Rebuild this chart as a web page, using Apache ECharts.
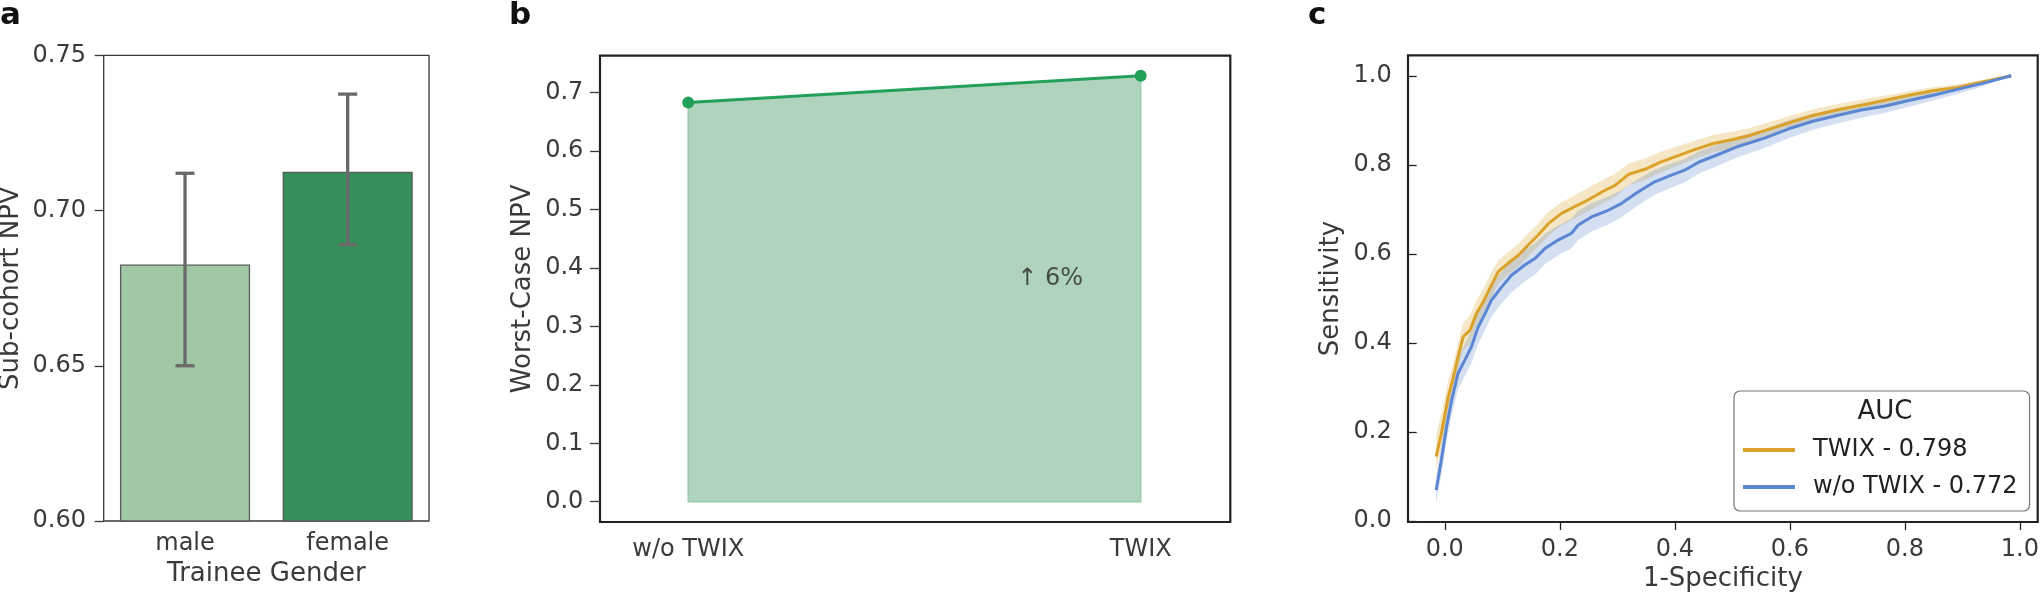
<!DOCTYPE html>
<html>
<head>
<meta charset="utf-8">
<title>TWIX NPV / ROC</title>
<script src="https://cdn.jsdelivr.net/npm/echarts@6/dist/echarts.min.js"></script>
<style>
  html, body { margin: 0; padding: 0; background: #fff; }
  #chart { width: 2040px; height: 595px; }
</style>
</head>
<body>
<div id="chart"></div>
<script>
// panel a: sub-cohort NPV by trainee gender
const genders = ['male', 'female'];
const genderNpv = [0.6826, 0.7125];
const genderErrLow = [0.650, 0.689];
const genderErrHigh = [0.712, 0.7375];
const genderColors = ['#a1c8a5', '#348f5b'];

// panel b: worst-case NPV
const caseLabels = ['w/o TWIX', 'TWIX'];
const casePos = [0, 1];
const worstNpv = [0.683, 0.729];
const worstTicks = [0, 0.1, 0.2, 0.3, 0.4, 0.5, 0.6, 0.7];
const gainText = '↑ 6%';

// panel c: ROC curves with bands
const rocTicks = [0, 0.2, 0.4, 0.6, 0.8, 1.0];
const twixAuc = 0.798;
const woAuc = 0.772;
const twixFpr = [-0.015, -0.006, 0.006, 0.015, 0.023, 0.032, 0.044, 0.055, 0.067, 0.081, 0.093, 0.110, 0.128, 0.145, 0.162, 0.180, 0.203, 0.226, 0.249, 0.273, 0.296, 0.320, 0.348, 0.375, 0.400, 0.432, 0.467, 0.501, 0.530, 0.556, 0.598, 0.640, 0.682, 0.724, 0.766, 0.809, 0.851, 0.893, 0.935, 0.985];
const twixTpr = [0.145, 0.197, 0.279, 0.324, 0.369, 0.414, 0.429, 0.466, 0.493, 0.530, 0.560, 0.579, 0.597, 0.620, 0.642, 0.668, 0.691, 0.706, 0.721, 0.739, 0.754, 0.779, 0.790, 0.806, 0.818, 0.833, 0.848, 0.857, 0.866, 0.877, 0.894, 0.911, 0.923, 0.934, 0.945, 0.957, 0.967, 0.974, 0.986, 1.000];
const twixLow = [0.115, 0.165, 0.245, 0.292, 0.337, 0.383, 0.400, 0.437, 0.465, 0.502, 0.533, 0.553, 0.571, 0.594, 0.616, 0.641, 0.664, 0.680, 0.695, 0.712, 0.728, 0.754, 0.766, 0.783, 0.796, 0.812, 0.828, 0.838, 0.848, 0.860, 0.878, 0.896, 0.910, 0.922, 0.934, 0.947, 0.958, 0.967, 0.981, 1.000];
const twixHigh = [0.195, 0.240, 0.315, 0.356, 0.400, 0.445, 0.462, 0.496, 0.522, 0.558, 0.585, 0.604, 0.623, 0.646, 0.668, 0.694, 0.716, 0.732, 0.748, 0.765, 0.780, 0.803, 0.814, 0.829, 0.840, 0.853, 0.867, 0.875, 0.883, 0.893, 0.909, 0.925, 0.936, 0.946, 0.956, 0.966, 0.975, 0.981, 0.991, 1.000];
const woFpr = [-0.015, -0.006, 0.003, 0.012, 0.023, 0.035, 0.046, 0.058, 0.070, 0.081, 0.099, 0.116, 0.139, 0.157, 0.174, 0.197, 0.220, 0.232, 0.255, 0.284, 0.307, 0.336, 0.365, 0.394, 0.417, 0.443, 0.471, 0.507, 0.556, 0.598, 0.640, 0.682, 0.724, 0.766, 0.809, 0.851, 0.893, 0.935, 0.985];
const woTpr = [0.070, 0.137, 0.212, 0.272, 0.332, 0.362, 0.391, 0.436, 0.466, 0.496, 0.526, 0.552, 0.575, 0.590, 0.612, 0.631, 0.646, 0.665, 0.683, 0.698, 0.713, 0.739, 0.762, 0.777, 0.788, 0.807, 0.821, 0.840, 0.860, 0.881, 0.898, 0.911, 0.923, 0.932, 0.945, 0.957, 0.970, 0.983, 1.000];
const woLow = [0.040, 0.105, 0.178, 0.238, 0.296, 0.326, 0.355, 0.399, 0.429, 0.459, 0.489, 0.514, 0.538, 0.554, 0.577, 0.597, 0.612, 0.631, 0.650, 0.666, 0.682, 0.709, 0.733, 0.749, 0.761, 0.781, 0.796, 0.816, 0.838, 0.860, 0.879, 0.893, 0.906, 0.917, 0.931, 0.945, 0.960, 0.976, 1.000];
const woHigh = [0.098, 0.168, 0.245, 0.305, 0.366, 0.398, 0.427, 0.471, 0.501, 0.531, 0.560, 0.586, 0.609, 0.624, 0.645, 0.664, 0.679, 0.697, 0.714, 0.729, 0.743, 0.768, 0.789, 0.803, 0.813, 0.831, 0.844, 0.862, 0.880, 0.900, 0.915, 0.927, 0.938, 0.946, 0.958, 0.968, 0.979, 0.989, 1.000];

const FONT = 'DejaVu Sans';
const TXT = '#3a3a3a';
const twixName = 'TWIX - ' + twixAuc.toFixed(3);
const woName = 'w/o TWIX - ' + woAuc.toFixed(3);

function band(xs, lo, hi, fill) {
  return function (params, api) {
    const pts = [];
    for (let i = 0; i < xs.length; i++) pts.push(api.coord([xs[i], hi[i]]));
    for (let i = xs.length - 1; i >= 0; i--) pts.push(api.coord([xs[i], lo[i]]));
    return { type: 'polygon', shape: { points: pts }, style: { fill: fill } };
  };
}

function pairs(xs, ys) {
  return xs.map((x, i) => [x, ys[i]]);
}

const chart = echarts.init(document.getElementById('chart'), null, { renderer: 'canvas' });

const axisName = { fontSize: 26, color: TXT, fontFamily: FONT };
const tickLabel = { fontSize: 24, color: TXT, fontFamily: FONT };

const option = {
  animation: false,
  backgroundColor: '#fff',
  textStyle: { fontFamily: FONT },
  grid: [
    { left: 103.7, top: 55.3, width: 325.3, height: 465.7, show: true, borderColor: '#3a3a3a', borderWidth: 1.3, backgroundColor: 'transparent', outerBoundsMode: 'none' },
    { left: 600, top: 55.7, width: 630.3, height: 466.3, show: true, borderColor: '#222', borderWidth: 2.2, backgroundColor: 'transparent', outerBoundsMode: 'none' },
    { left: 1408, top: 55.3, width: 629.7, height: 466.7, show: true, borderColor: '#222', borderWidth: 2.2, backgroundColor: 'transparent', outerBoundsMode: 'none' }
  ],
  xAxis: [
    {
      gridIndex: 0, type: 'category', data: genders,
      axisLine: { show: false }, axisTick: { show: false }, splitLine: { show: false },
      axisLabel: Object.assign({ margin: 11 }, tickLabel),
      name: 'Trainee Gender', nameLocation: 'middle', nameGap: 39, nameTextStyle: axisName
    },
    {
      gridIndex: 1, type: 'value', min: -0.195, max: 1.198,
      axisLine: { show: false, onZero: false }, axisTick: { show: false }, splitLine: { show: false },
      axisLabel: Object.assign({
        margin: 15.5, customValues: casePos,
        formatter: v => caseLabels[Math.round(v)]
      }, tickLabel)
    },
    {
      gridIndex: 2, type: 'value', min: -0.064, max: 1.031,
      axisLine: { show: false, onZero: false }, splitLine: { show: false },
      axisTick: { show: true, length: 8, customValues: rocTicks, lineStyle: { color: '#222', width: 1.3 } },
      axisLabel: Object.assign({ margin: 15.5, customValues: rocTicks, formatter: v => v.toFixed(1) }, tickLabel),
      name: '1-Specificity', nameLocation: 'middle', nameGap: 44.5, nameTextStyle: axisName
    }
  ],
  yAxis: [
    {
      gridIndex: 0, type: 'value', min: 0.6, max: 0.75, interval: 0.05,
      axisLine: { show: false }, splitLine: { show: false },
      axisTick: { show: true, length: 9, lineStyle: { color: '#3a3a3a', width: 1.3 } },
      axisLabel: Object.assign({ margin: 17.7, formatter: v => v.toFixed(2) }, tickLabel),
      name: 'Sub-cohort NPV', nameLocation: 'middle', nameGap: 79.7, nameRotate: 90, nameTextStyle: axisName
    },
    {
      gridIndex: 1, type: 'value', min: -0.0347, max: 0.7633,
      axisLine: { show: false, onZero: false }, splitLine: { show: false },
      axisTick: { show: true, length: 10, customValues: worstTicks, lineStyle: { color: '#3a3a3a', width: 1.3 } },
      axisLabel: Object.assign({ margin: 16.7, customValues: worstTicks, formatter: v => v.toFixed(1) }, tickLabel),
      name: 'Worst-Case NPV', nameLocation: 'middle', nameGap: 63.5, nameRotate: 90, nameTextStyle: axisName
    },
    {
      gridIndex: 2, type: 'value', min: -0.002, max: 1.046,
      axisLine: { show: false, onZero: false }, splitLine: { show: false },
      axisTick: { show: true, inside: true, length: 8.7, customValues: rocTicks, lineStyle: { color: '#222', width: 1.3 } },
      axisLabel: Object.assign({ margin: 16.3, customValues: rocTicks, formatter: v => v.toFixed(1) }, tickLabel),
      name: 'Sensitivity', nameLocation: 'middle', nameGap: 63.4, nameRotate: 90, nameTextStyle: axisName
    }
  ],
  legend: {
    data: [twixName, woName],
    orient: 'vertical', left: 1734, top: 391,
    padding: [47, 12, 12, 9], itemGap: 13,
    itemWidth: 52, itemHeight: 4, icon: 'rect',
    backgroundColor: '#fff', borderColor: '#777', borderWidth: 1.2, borderRadius: 6,
    selectedMode: false,
    textStyle: { fontSize: 24, color: '#222', fontFamily: FONT, padding: [0, 0, 0, 13] }
  },
  graphic: [
    { type: 'text', left: 0, top: 0, style: { text: 'a', x: 0, y: 15.6, fontSize: 31, fontWeight: 'bold', fill: '#111', fontFamily: FONT, verticalAlign: 'middle' } },
    { type: 'text', x: 509, y: 15.6, style: { text: 'b', fontSize: 31, fontWeight: 'bold', fill: '#111', fontFamily: FONT, verticalAlign: 'middle' } },
    { type: 'text', x: 1308, y: 15.6, style: { text: 'c', fontSize: 31, fontWeight: 'bold', fill: '#111', fontFamily: FONT, verticalAlign: 'middle' } },
    { type: 'text', x: 1885, y: 412.7, z: 100, style: { text: 'AUC', fontSize: 26, fill: '#222', fontFamily: FONT, align: 'center', verticalAlign: 'middle' } }
  ],
  series: [
    // a
    {
      type: 'bar', xAxisIndex: 0, yAxisIndex: 0, barWidth: '80%',
      data: genderNpv.map((v, i) => ({ value: v, itemStyle: { color: genderColors[i] } })),
      itemStyle: { borderColor: '#5a5a5a', borderWidth: 1.3 }
    },
    {
      type: 'custom', xAxisIndex: 0, yAxisIndex: 0, z: 5,
      data: genders.map((g, i) => [i, genderErrLow[i], genderErrHigh[i]]),
      encode: { x: 0, y: [1, 2] },
      renderItem: function (params, api) {
        const lo = api.coord([api.value(0), api.value(1)]);
        const hi = api.coord([api.value(0), api.value(2)]);
        const w = 9.5;
        const st = { stroke: '#696969', lineWidth: 3.3 };
        return {
          type: 'group', children: [
            { type: 'line', shape: { x1: lo[0], y1: lo[1], x2: hi[0], y2: hi[1] }, style: st },
            { type: 'line', shape: { x1: lo[0] - w, y1: lo[1], x2: lo[0] + w, y2: lo[1] }, style: st },
            { type: 'line', shape: { x1: hi[0] - w, y1: hi[1], x2: hi[0] + w, y2: hi[1] }, style: st }
          ]
        };
      }
    },
    // b
    {
      type: 'custom', xAxisIndex: 1, yAxisIndex: 1, silent: true,
      data: [[0.5, 0.3]],
      renderItem: function (params, api) {
        const pts = [api.coord([casePos[0], 0])];
        casePos.forEach((x, i) => pts.push(api.coord([x, worstNpv[i]])));
        pts.push(api.coord([casePos[casePos.length - 1], 0]));
        return { type: 'polygon', shape: { points: pts }, style: { fill: '#b0d3be', stroke: '#9dcbae', lineWidth: 1.5 } };
      }
    },
    {
      type: 'line', xAxisIndex: 1, yAxisIndex: 1, z: 4,
      data: pairs(casePos, worstNpv),
      symbol: 'circle', symbolSize: 12, showSymbol: true,
      lineStyle: { color: '#22a05a', width: 3 }, itemStyle: { color: '#22a05a' }
    },
    {
      type: 'scatter', xAxisIndex: 1, yAxisIndex: 1, z: 6,
      data: [[0.8, 0.382]], symbolSize: 0,
      label: { show: true, position: 'inside', formatter: gainText, fontSize: 24, color: '#2a2a2a', fontFamily: FONT }
    },
    // c
    {
      type: 'custom', xAxisIndex: 2, yAxisIndex: 2, silent: true, z: 2,
      data: [[0.5, 0.5]],
      renderItem: band(twixFpr, twixLow, twixHigh, 'rgba(218,165,40,0.27)')
    },
    {
      type: 'custom', xAxisIndex: 2, yAxisIndex: 2, silent: true, z: 2,
      data: [[0.5, 0.5]],
      renderItem: band(woFpr, woLow, woHigh, 'rgba(84,128,205,0.25)')
    },
    {
      name: twixName, type: 'line', xAxisIndex: 2, yAxisIndex: 2, z: 4,
      data: pairs(twixFpr, twixTpr), showSymbol: false, symbol: 'none',
      color: '#daa22b', lineStyle: { color: '#daa22b', width: 3 }, itemStyle: { color: '#daa22b' }
    },
    {
      name: woName, type: 'line', xAxisIndex: 2, yAxisIndex: 2, z: 4,
      data: pairs(woFpr, woTpr), showSymbol: false, symbol: 'none',
      color: '#5b86d1', lineStyle: { color: '#5b86d1', width: 3 }, itemStyle: { color: '#5b86d1' }
    }
  ]
};

chart.setOption(option);
</script>
</body>
</html>
